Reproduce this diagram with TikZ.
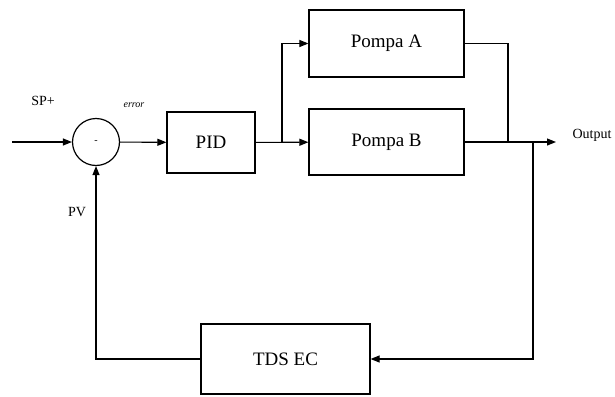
\documentclass[tikz,border=0pt]{standalone}
\usepackage{fontspec}
\setmainfont{Liberation Serif}
\usetikzlibrary{arrows.meta}
\begin{document}
\begin{tikzpicture}[x=1pt, y=-1pt, line width=1.1pt,
  block/.style={draw, line width=1.2pt, inner sep=0pt, font=\rmfamily\fontsize{19}{22}\selectfont},
  sig/.style={-{Triangle[length=9pt,width=7pt]}},
  lbl/.style={inner sep=0pt, font=\rmfamily\fontsize{14}{16}\selectfont}]
\useasboundingbox (0,0) rectangle (615,396);
\node[draw, circle, line width=1.2pt, minimum size=47pt, inner sep=0pt] (sum) at (96,142) {-};
\node[block, minimum width=88pt, minimum height=61pt] (pid) at (211,142.5) {PID};
\node[block, minimum width=155pt, minimum height=67pt] (pompaA) at (386.5,43.5) {Pompa A};
\node[block, minimum width=155pt, minimum height=66pt] (pompaB) at (386.5,142) {Pompa B};
\node[block, minimum width=169pt, minimum height=70pt] (tds) at (285.5,359) {TDS EC};

\coordinate (in) at (12,142);
\coordinate (split) at (282,142);
\coordinate (join) at (508,142);
\coordinate (tap) at (533,142);
\coordinate (out) at (556,142);

\node[lbl] (sp) at (43,101) {SP+};
\node[lbl, font=\rmfamily\fontsize{10}{12}\selectfont\itshape] (err) at (134,105) {error};
\node[lbl] (pv) at (77,212) {PV};
\node[lbl, anchor=west] (output) at (572,135) {Output};

\draw[sig] (in) -- (sum);
\draw[sig] (sum) -- (pid);
\draw[sig] (pid) -- (pompaB);
\draw[sig] (split) |- (pompaA);
\draw (pompaA) -| (join);
\draw[sig] (pompaB) -- (out);
\draw[sig] (tap) |- (tds);
\draw[sig] (tds) -| (sum);
\end{tikzpicture}
\end{document}
